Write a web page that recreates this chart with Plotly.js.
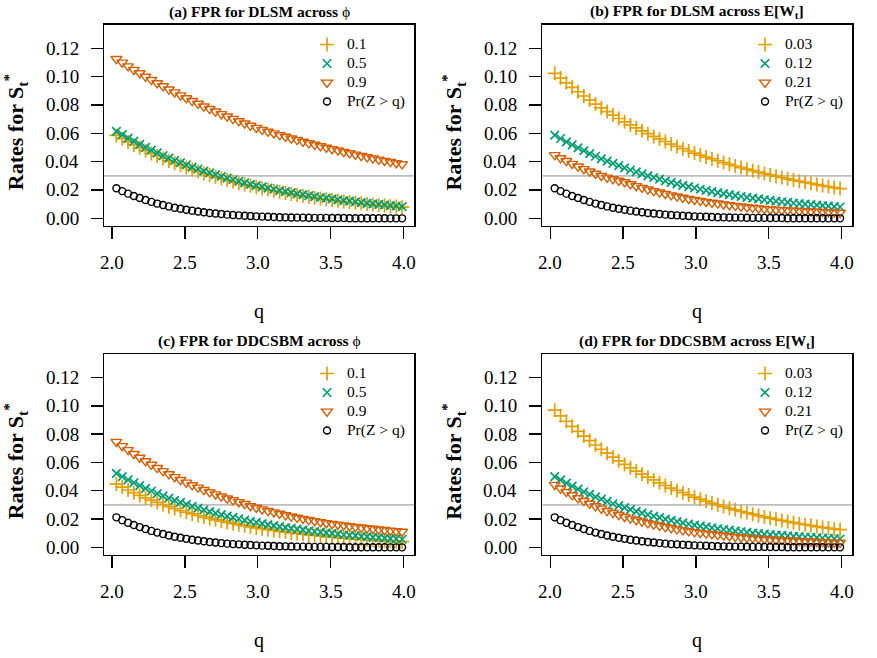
<!DOCTYPE html>
<html>
<head>
<meta charset="utf-8">
<script src="https://cdn.plot.ly/plotly-3.0.1.min.js"></script>
<style>
  html, body { margin: 0; padding: 0; background: #fff; }
  #fig { width: 877px; height: 658px; }
</style>
</head>
<body>
<div id="fig"></div>
<script>
// threshold values q
var q = [2.03, 2.07, 2.11, 2.15, 2.19, 2.23, 2.27, 2.31, 2.35, 2.39,
         2.43, 2.47, 2.51, 2.55, 2.59, 2.63, 2.67, 2.71, 2.75, 2.79,
         2.83, 2.87, 2.91, 2.95, 2.99, 3.03, 3.07, 3.11, 3.15, 3.19,
         3.23, 3.27, 3.31, 3.35, 3.39, 3.43, 3.47, 3.51, 3.55, 3.59,
         3.63, 3.67, 3.71, 3.75, 3.79, 3.83, 3.87, 3.91, 3.95, 3.99];

// Pr(Z > q), same in every panel
var normTail = [0.0212, 0.0192, 0.0174, 0.0158, 0.0143, 0.0129, 0.0116, 0.0104, 0.0094, 0.0084,
                0.0075, 0.0068, 0.0060, 0.0054, 0.0048, 0.0043, 0.0038, 0.0034, 0.0030, 0.0026,
                0.0023, 0.0021, 0.0018, 0.0016, 0.0014, 0.0012, 0.0011, 0.0009, 0.0008, 0.0007,
                0.0006, 0.0005, 0.0005, 0.0004, 0.0003, 0.0003, 0.0003, 0.0002, 0.0002, 0.0002,
                0.0001, 0.0001, 0.0001, 0.0001, 0.0001, 0.0001, 0.0001, 0.0000, 0.0000, 0.0000];

// (a) DLSM across phi
var aPhi01 = [0.0585, 0.0562, 0.0539, 0.0518, 0.0497, 0.0477, 0.0458, 0.0440, 0.0422, 0.0405,
              0.0389, 0.0374, 0.0359, 0.0344, 0.0331, 0.0317, 0.0305, 0.0293, 0.0281, 0.0270,
              0.0259, 0.0248, 0.0238, 0.0229, 0.0220, 0.0211, 0.0203, 0.0195, 0.0187, 0.0179,
              0.0172, 0.0165, 0.0159, 0.0152, 0.0146, 0.0140, 0.0135, 0.0130, 0.0124, 0.0119,
              0.0115, 0.0110, 0.0106, 0.0101, 0.0097, 0.0093, 0.0090, 0.0086, 0.0083, 0.0079];
var aPhi05 = [0.0614, 0.0590, 0.0566, 0.0544, 0.0522, 0.0501, 0.0481, 0.0462, 0.0443, 0.0425,
              0.0408, 0.0393, 0.0377, 0.0361, 0.0348, 0.0333, 0.0320, 0.0308, 0.0295, 0.0284,
              0.0272, 0.0260, 0.0250, 0.0240, 0.0231, 0.0222, 0.0213, 0.0205, 0.0196, 0.0188,
              0.0181, 0.0173, 0.0167, 0.0160, 0.0153, 0.0147, 0.0142, 0.0137, 0.0130, 0.0125,
              0.0121, 0.0116, 0.0111, 0.0106, 0.0102, 0.0098, 0.0095, 0.0090, 0.0087, 0.0083];
var aPhi09 = [0.1125, 0.1099, 0.1073, 0.1048, 0.1024, 0.1000, 0.0977, 0.0954, 0.0932, 0.0910,
              0.0889, 0.0868, 0.0848, 0.0828, 0.0809, 0.0790, 0.0772, 0.0754, 0.0736, 0.0719,
              0.0702, 0.0686, 0.0670, 0.0654, 0.0639, 0.0625, 0.0612, 0.0600, 0.0588, 0.0576,
              0.0564, 0.0553, 0.0541, 0.0530, 0.0520, 0.0509, 0.0499, 0.0489, 0.0479, 0.0469,
              0.0460, 0.0450, 0.0441, 0.0432, 0.0423, 0.0415, 0.0406, 0.0398, 0.0390, 0.0382];

// (b) DLSM across E[W_t]
var bW003 = [0.1023, 0.0989, 0.0956, 0.0924, 0.0893, 0.0863, 0.0834, 0.0806, 0.0779, 0.0753,
             0.0728, 0.0704, 0.0681, 0.0659, 0.0638, 0.0617, 0.0597, 0.0578, 0.0560, 0.0542,
             0.0524, 0.0507, 0.0491, 0.0475, 0.0460, 0.0446, 0.0432, 0.0419, 0.0406, 0.0393,
             0.0381, 0.0369, 0.0358, 0.0347, 0.0336, 0.0326, 0.0316, 0.0306, 0.0297, 0.0288,
             0.0279, 0.0270, 0.0262, 0.0254, 0.0246, 0.0238, 0.0231, 0.0224, 0.0217, 0.0210];
var bW012 = [0.0587, 0.0563, 0.0540, 0.0518, 0.0497, 0.0477, 0.0457, 0.0438, 0.0420, 0.0403,
             0.0387, 0.0371, 0.0356, 0.0341, 0.0327, 0.0313, 0.0300, 0.0288, 0.0276, 0.0264,
             0.0253, 0.0243, 0.0233, 0.0223, 0.0214, 0.0205, 0.0197, 0.0189, 0.0181, 0.0174,
             0.0167, 0.0160, 0.0154, 0.0148, 0.0142, 0.0137, 0.0131, 0.0126, 0.0121, 0.0117,
             0.0112, 0.0108, 0.0104, 0.0100, 0.0096, 0.0093, 0.0089, 0.0086, 0.0083, 0.0080];
var bW021 = [0.0447, 0.0425, 0.0405, 0.0385, 0.0366, 0.0348, 0.0331, 0.0315, 0.0300, 0.0288,
             0.0277, 0.0266, 0.0255, 0.0241, 0.0228, 0.0216, 0.0204, 0.0193, 0.0183, 0.0173,
             0.0163, 0.0155, 0.0146, 0.0138, 0.0131, 0.0124, 0.0117, 0.0111, 0.0105, 0.0099,
             0.0094, 0.0089, 0.0084, 0.0079, 0.0075, 0.0071, 0.0067, 0.0064, 0.0062, 0.0059,
             0.0057, 0.0055, 0.0053, 0.0051, 0.0049, 0.0047, 0.0045, 0.0043, 0.0042, 0.0040];

// (c) DDCSBM across phi
var cPhi01 = [0.0447, 0.0426, 0.0405, 0.0386, 0.0367, 0.0350, 0.0333, 0.0317, 0.0302, 0.0287,
              0.0274, 0.0260, 0.0248, 0.0236, 0.0225, 0.0214, 0.0204, 0.0194, 0.0185, 0.0176,
              0.0167, 0.0159, 0.0152, 0.0144, 0.0137, 0.0131, 0.0125, 0.0119, 0.0113, 0.0108,
              0.0102, 0.0097, 0.0093, 0.0088, 0.0084, 0.0080, 0.0076, 0.0073, 0.0069, 0.0066,
              0.0063, 0.0060, 0.0057, 0.0054, 0.0052, 0.0049, 0.0047, 0.0045, 0.0042, 0.0040];
var cPhi05 = [0.0522, 0.0499, 0.0477, 0.0456, 0.0436, 0.0416, 0.0398, 0.0380, 0.0363, 0.0347,
              0.0332, 0.0317, 0.0303, 0.0290, 0.0277, 0.0265, 0.0253, 0.0242, 0.0231, 0.0221,
              0.0211, 0.0202, 0.0193, 0.0184, 0.0176, 0.0168, 0.0161, 0.0154, 0.0147, 0.0140,
              0.0134, 0.0128, 0.0123, 0.0117, 0.0112, 0.0107, 0.0102, 0.0098, 0.0094, 0.0089,
              0.0085, 0.0082, 0.0078, 0.0075, 0.0071, 0.0068, 0.0065, 0.0062, 0.0060, 0.0057];
var cPhi09 = [0.0746, 0.0716, 0.0688, 0.0660, 0.0634, 0.0609, 0.0584, 0.0561, 0.0539, 0.0517,
              0.0497, 0.0477, 0.0458, 0.0440, 0.0423, 0.0406, 0.0390, 0.0375, 0.0360, 0.0346,
              0.0333, 0.0320, 0.0307, 0.0292, 0.0280, 0.0269, 0.0258, 0.0248, 0.0238, 0.0228,
              0.0219, 0.0210, 0.0202, 0.0194, 0.0186, 0.0179, 0.0172, 0.0166, 0.0161, 0.0156,
              0.0150, 0.0145, 0.0141, 0.0136, 0.0132, 0.0127, 0.0123, 0.0119, 0.0115, 0.0111];

// (d) DDCSBM across E[W_t]
var dW003 = [0.0969, 0.0929, 0.0891, 0.0855, 0.0820, 0.0786, 0.0754, 0.0723, 0.0693, 0.0665,
             0.0638, 0.0611, 0.0586, 0.0562, 0.0539, 0.0517, 0.0496, 0.0476, 0.0456, 0.0437,
             0.0419, 0.0402, 0.0386, 0.0370, 0.0355, 0.0340, 0.0326, 0.0313, 0.0300, 0.0288,
             0.0276, 0.0265, 0.0254, 0.0244, 0.0234, 0.0224, 0.0215, 0.0206, 0.0198, 0.0190,
             0.0182, 0.0174, 0.0167, 0.0160, 0.0154, 0.0147, 0.0141, 0.0136, 0.0130, 0.0125];
var dW012 = [0.0499, 0.0476, 0.0453, 0.0432, 0.0412, 0.0392, 0.0374, 0.0356, 0.0340, 0.0324,
             0.0308, 0.0294, 0.0280, 0.0267, 0.0254, 0.0242, 0.0231, 0.0220, 0.0210, 0.0200,
             0.0190, 0.0181, 0.0173, 0.0165, 0.0157, 0.0150, 0.0144, 0.0138, 0.0132, 0.0126,
             0.0121, 0.0115, 0.0110, 0.0106, 0.0101, 0.0097, 0.0093, 0.0090, 0.0087, 0.0084,
             0.0081, 0.0078, 0.0075, 0.0073, 0.0070, 0.0068, 0.0066, 0.0064, 0.0061, 0.0059];
var dW021 = [0.0442, 0.0416, 0.0392, 0.0369, 0.0348, 0.0328, 0.0309, 0.0291, 0.0274, 0.0258,
             0.0243, 0.0229, 0.0216, 0.0204, 0.0192, 0.0182, 0.0171, 0.0162, 0.0153, 0.0144,
             0.0136, 0.0128, 0.0121, 0.0114, 0.0108, 0.0103, 0.0098, 0.0093, 0.0088, 0.0084,
             0.0079, 0.0075, 0.0072, 0.0068, 0.0065, 0.0061, 0.0058, 0.0056, 0.0053, 0.0051,
             0.0049, 0.0047, 0.0045, 0.0043, 0.0041, 0.0039, 0.0038, 0.0036, 0.0034, 0.0033];

var phiLabels = ['0.1', '0.5', '0.9'];
var wLabels = ['0.03', '0.12', '0.21'];
var xTicks = [2.0, 2.5, 3.0, 3.5, 4.0];
var yTicks = [0.00, 0.02, 0.04, 0.06, 0.08, 0.10, 0.12];
var nominal = 0.03;

var SERIF = "'Liberation Serif', 'Times New Roman', Times, serif";
var ORANGE = '#E69F00', GREEN = '#009E73', RED = '#D55E00';

// legend rows are tighter than Plotly's default, so the legend font is small
// and the names carry their real size
function lbl(s) { return '<span style="font-size:15.5px">' + s + '</span>'; }

// one panel = three series + the normal tail
function panel(n, s1, s2, s3, labels) {
  var xa = n === 1 ? 'x' : 'x' + n;
  var ya = n === 1 ? 'y' : 'y' + n;
  var lg = n === 1 ? 'legend' : 'legend' + n;
  var base = {x: q, xaxis: xa, yaxis: ya, legend: lg, type: 'scatter', mode: 'markers', cliponaxis: false};
  return [
    Object.assign({}, base, {y: s1, name: lbl(labels[0]),
      marker: {symbol: 'cross-thin-open', size: 10, color: ORANGE, line: {color: ORANGE, width: 1.7}}}),
    Object.assign({}, base, {y: s2, name: lbl(labels[1]),
      marker: {symbol: 'x-thin-open', size: 8.5, color: GREEN, line: {color: GREEN, width: 1.7}}}),
    Object.assign({}, base, {y: s3, name: lbl(labels[2]),
      marker: {symbol: 'triangle-down-open', size: 9.5, color: RED, line: {color: RED, width: 1.4}}}),
    Object.assign({}, base, {y: normTail, name: lbl('Pr(Z &gt; q)'),
      marker: {symbol: 'circle-open', size: 7, color: 'black', line: {color: 'black', width: 1.4}}})
  ];
}

var data = [].concat(
  panel(1, aPhi01, aPhi05, aPhi09, phiLabels),
  panel(2, bW003, bW012, bW021, wLabels),
  panel(3, cPhi01, cPhi05, cPhi09, phiLabels),
  panel(4, dW003, dW012, dW021, wLabels)
);

var colL = [0.1186, 0.4721], colR = [0.6184, 0.9715];
var rowT = [0.6570, 0.9625], rowB = [0.1570, 0.4620];

// tick marks come from the axes; their labels are placed below as annotations
function xaxis(dom, anchor) {
  return {domain: dom, anchor: anchor, range: [1.945, 4.072], tickvals: xTicks,
    ticks: 'outside', ticklen: 12, tickwidth: 1.4, tickcolor: 'black', showticklabels: false,
    showline: true, mirror: true, linecolor: 'black', linewidth: 1.5,
    showgrid: false, zeroline: false};
}
function yaxis(dom, anchor) {
  return {domain: dom, anchor: anchor, range: [-0.0052, 0.1366], tickvals: yTicks,
    ticks: 'outside', ticklen: 12, tickwidth: 1.4, tickcolor: 'black', showticklabels: false,
    showline: true, mirror: true, linecolor: 'black', linewidth: 1.5,
    showgrid: false, zeroline: false};
}
function legend(xl, yt) {
  return {x: xl, y: yt, xanchor: 'left', yanchor: 'top', bgcolor: 'rgba(0,0,0,0)',
    borderwidth: 0, tracegroupgap: 0, itemwidth: 30,
    font: {family: SERIF, size: 12, color: 'black'}};
}

var panels = [
  {x: colL, y: rowT, title: '<b>(a) FPR for DLSM across </b>ϕ'},
  {x: colR, y: rowT, title: '<b>(b) FPR for DLSM across E[W<sub>t</sub>]</b>'},
  {x: colL, y: rowB, title: '<b>(c) FPR for DDCSBM across </b>ϕ'},
  {x: colR, y: rowB, title: '<b>(d) FPR for DDCSBM across E[W<sub>t</sub>]</b>'}
];

var tickFont = {family: SERIF, size: 19, color: 'black'};
var annotations = [], shapes = [];
panels.forEach(function (p, i) {
  var n = i + 1;
  var xs = n === 1 ? 'x' : 'x' + n, ys = n === 1 ? 'y' : 'y' + n;
  var cx = (p.x[0] + p.x[1]) / 2, cy = (p.y[0] + p.y[1]) / 2;
  annotations.push({xref: 'paper', yref: 'paper', x: cx, y: p.y[1] + 13 / 658,
    text: p.title, showarrow: false, xanchor: 'center', yanchor: 'middle',
    font: {family: SERIF, size: 15.5, color: 'black'}});
  annotations.push({xref: 'paper', yref: 'paper', x: cx, y: p.y[0] - 86 / 658,
    text: 'q', showarrow: false, xanchor: 'center', yanchor: 'middle',
    font: {family: SERIF, size: 20, color: 'black'}});
  annotations.push({xref: 'paper', yref: 'paper', x: p.x[0] - 89 / 877, y: cy - 7 / 658,
    text: '<b>Rates for S<sub>t</sub><sup>*</sup></b>', showarrow: false, textangle: -90,
    xanchor: 'center', yanchor: 'middle',
    font: {family: SERIF, size: 22, color: 'black'}});
  xTicks.forEach(function (v) {
    annotations.push({xref: xs, yref: 'paper', x: v, y: p.y[0] - 37 / 658,
      text: v.toFixed(1), showarrow: false, xanchor: 'center', yanchor: 'middle', font: tickFont});
  });
  yTicks.forEach(function (v) {
    annotations.push({xref: 'paper', yref: ys, x: p.x[0] - 23 / 877, y: v,
      text: v.toFixed(2), showarrow: false, xanchor: 'right', yanchor: 'middle', font: tickFont});
  });
  shapes.push({type: 'line', xref: xs + ' domain', yref: ys, x0: 0, x1: 1, y0: nominal, y1: nominal,
    layer: 'below', line: {color: '#BEBEBE', width: 1.8}});
});

var layout = {
  width: 877, height: 658,
  margin: {l: 0, r: 0, t: 0, b: 0},
  paper_bgcolor: 'white', plot_bgcolor: 'white',
  showlegend: true,
  font: {family: SERIF, color: 'black'},
  xaxis: xaxis(colL, 'y'), yaxis: yaxis(rowT, 'x'),
  xaxis2: xaxis(colR, 'y2'), yaxis2: yaxis(rowT, 'x2'),
  xaxis3: xaxis(colL, 'y3'), yaxis3: yaxis(rowB, 'x3'),
  xaxis4: xaxis(colR, 'y4'), yaxis4: yaxis(rowB, 'x4'),
  legend: legend(307 / 877, 1 - 30 / 658),
  legend2: legend(745 / 877, 1 - 30 / 658),
  legend3: legend(307 / 877, 1 - 359 / 658),
  legend4: legend(745 / 877, 1 - 359 / 658),
  annotations: annotations,
  shapes: shapes
};

Plotly.newPlot('fig', data, layout, {staticPlot: true, displayModeBar: false});
</script>
</body>
</html>
